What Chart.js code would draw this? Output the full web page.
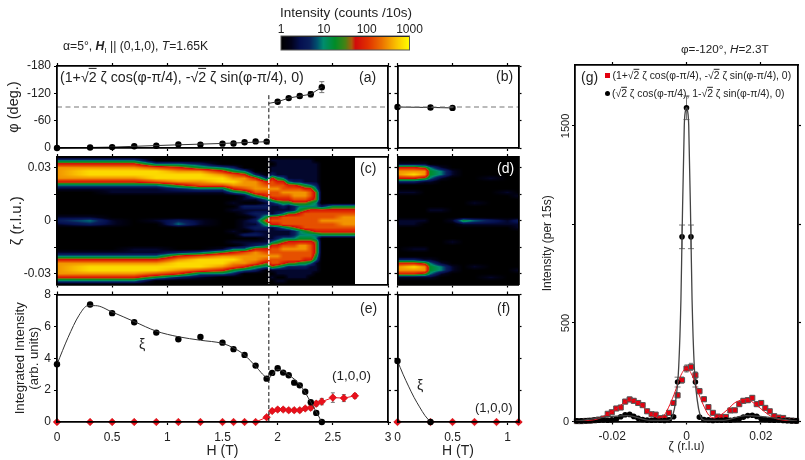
<!DOCTYPE html>
<html><head><meta charset="utf-8">
<style>
html,body{margin:0;padding:0;background:#fff;width:805px;height:460px;overflow:hidden}
canvas{position:absolute;left:0;top:0;pointer-events:none}
.t{position:absolute;white-space:nowrap;font-family:"Liberation Sans",Arial,sans-serif;color:#222;transform:translateY(-50%);line-height:1;z-index:5}
.t o{text-decoration:overline;font-style:normal}
.m{position:absolute;z-index:5}
</style>
<script src="https://cdn.jsdelivr.net/npm/chart.js@4"></script>
</head><body>
<script>
// ---------- data ----------
const phiH1 = [0,0.3,0.5,0.7,0.9,1.1,1.3,1.5,1.6,1.7,1.8,1.9];
const phiV1 = [0,-1,-2,-3.7,-5,-8,-7.5,-9.5,-10,-12.5,-14.5,-14];
const phiH2 = [2.0,2.1,2.2,2.3,2.4];
const phiV2 = [-101.6,-109.5,-114,-118,-133.6];
const phiE2 = [3,3,4,6,12];
const phiFitH1 = [0,0.5,1.1,1.5,1.92];
const phiFitV1 = [0,-2,-7,-10,-14];
const phiFitH2 = [1.92,2.0,2.1,2.2,2.3,2.4];
const phiFitV2 = [-98,-101.6,-109.5,-114,-118,-133.6];
const phiBH = [0,0.3,0.5];
const phiBV = [-90,-89,-88];
const refPhi = [-90,-90];
const refPhiX1 = [0,3];
const refPhiX2 = [0,1.1];
const dashH = [1.92,1.92];
const dashPhi = [-116,0];
const dashZeta = [0.036,-0.036];
const dashInt = [8,0];

const intH = [0,0.3,0.5,0.7,0.9,1.1,1.3,1.5,1.6,1.7,1.8,1.9,1.95,2.0,2.05,2.1,2.15,2.2,2.25,2.3,2.35,2.4];
const intXi = [3.62,7.37,6.83,6.26,5.61,5.19,5.34,4.98,4.57,4.21,3.54,2.72,3.08,3.37,3.1,2.93,2.47,2.3,1.9,1.24,0.57,0];
const fitXiH = [0,0.1,0.2,0.28,0.35,0.5,0.7,0.9,1.1,1.3,1.5,1.6,1.7,1.8,1.9,1.92,2.0,2.1,2.2,2.3,2.4];
const fitXiV = [3.62,5.3,6.7,7.3,7.3,6.9,6.3,5.7,5.35,5.13,4.93,4.65,4.2,3.5,2.8,2.78,3.3,2.95,2.35,1.25,0];
const redH = [0,0.3,0.5,0.7,0.9,1.1,1.3,1.5,1.6,1.7,1.8,1.9,1.95,2.0,2.05,2.1,2.15,2.2,2.25,2.3,2.35,2.4,2.5,2.6,2.7];
const redV = [0,0,0,0,0,0,0,0,0,0,0,0.3,0.69,0.78,0.78,0.74,0.74,0.74,0.85,0.9,1.15,1.28,1.53,1.5,1.64];
const redE = [0,0,0,0,0,0,0,0,0,0,0,0.1,0.1,0.12,0.12,0.12,0.12,0.12,0.12,0.15,0.15,0.2,0.3,0.22,0.15];
const fXiH = [0,0.3];
const fXiV = [3.83,0];
const fFitH = [0,0.05,0.1,0.15,0.2,0.25,0.3];
const fFitV = [3.83,3.0,2.25,1.55,0.95,0.4,0];
const fRedH = [0,0.3,0.5,0.7,0.9,1.1];
const fRedV = [0,0,0,0,0,0];

const zetaG = [-0.0295,-0.0283,-0.0271,-0.026,-0.0248,-0.0236,-0.0224,-0.0212,-0.0201,-0.0189,-0.0177,-0.0165,-0.0153,-0.0142,-0.013,-0.0118,-0.0106,-0.0094,-0.0083,-0.0071,-0.0059,-0.0047,-0.0035,-0.0024,-0.0012,0,0.0012,0.0024,0.0035,0.0047,0.0059,0.0071,0.0083,0.0094,0.0106,0.0118,0.013,0.0142,0.0153,0.0165,0.0177,0.0189,0.0201,0.0212,0.0224,0.0236,0.0248,0.026,0.0271,0.0283,0.0295];
const gRed = [2,2,3,4,6,10,15,39,47,66,71,101,112,105,94,83,52,37,35,17,20,44,94,133,210,269,277,235,154,113,73,44,25,23,23,56,57,88,105,108,120,88,94,69,52,27,20,18,7,5,3];
const gBlack = [3,3,4,5,7,6,8,6,8,12,24,34,36,26,16,10,7,6,8,6,5,8,24,200,937,1592,937,200,22,10,8,5,7,6,8,6,10,14,22,30,32,26,14,10,8,6,8,5,4,3,3];
const gFitBZ = [-0.03,-0.016,-0.01,-0.0055,-0.0045,-0.0037,-0.0029,-0.0021,-0.0015,-0.0012,-0.0006,-0.0003,0,0.0003,0.0006,0.0012,0.0015,0.0021,0.0029,0.0037,0.0045,0.0055,0.01,0.016,0.03];
const gFitBV = [2,30,6,5,8,30,107,277,617,937,1500,1575,1592,1575,1500,937,617,277,107,30,8,5,6,30,2];
const gFitRZ = [-0.03,-0.026,-0.024,-0.022,-0.02,-0.018,-0.0165,-0.015,-0.013,-0.011,-0.009,-0.0075,-0.006,-0.0045,-0.003,-0.0015,0,0.0015,0.003,0.0045,0.006,0.0075,0.009,0.011,0.013,0.015,0.0165,0.018,0.02,0.022,0.024,0.026,0.03];
const gFitRV = [0,6,12,30,50,78,100,108,95,60,30,18,32,85,155,235,270,235,155,85,32,18,30,60,95,110,112,95,65,35,15,7,0];

// intensity maps: one string per H column, rows from zeta=+0.036 down to -0.036; digit = 3*log10(counts)
const heatZeta = [0.036,0.034,0.032,0.03,0.028,0.026,0.024,0.022,0.02,0.018,0.016,0.014,0.012,0.01,0.008,0.006,0.004,0.002,0,-0.002,-0.004,-0.006,-0.008,-0.01,-0.012,-0.014,-0.016,-0.018,-0.02,-0.022,-0.024,-0.026,-0.028,-0.03,-0.032,-0.034,-0.036];
const heatCH = [0,0.3,0.5,0.7,0.9,1.1,1.3,1.5,1.6,1.7,1.8,1.9,1.95,2,2.05,2.1,2.15,2.2,2.25,2.3,2.35,2.4,2.5,2.6,2.7];
const heatC = [
"036888863 100000001 2 100000001 368888630",
"036899863 100000001 3 200000001 368998630",
"036899863 110000000 1 100000001 368998630",
"036899863 110000000 0 000000011 368998630",
"003799973 110000000 1 000000011 368997400",
"003689985 210000000 2 300000002 689986200",
"002489987 310000000 1 100000003 799973100",
"000368997 310000000 0 000000015 899863000",
"000247898 630010100 0 001001036 898742000",
"000036888 741102110 1 110201137 888630000",
"000002688 874102121 2 121201268 887420000",
"000000267 876312124 6 421111367 875300000",
"010112677 877521116 7 611113677 877510100",
"011111467 877631126 7 621124677 877411010",
"011111367 787642137 7 731135787 776311010",
"011111136 787641157 7 741136787 775211100",
"011111126 788752257 7 752236787 775211100",
"011111125 788753467 7 763346887 774211100",
"011111114 688753577 7 774346887 764211100",
"011111113 677643677 7 775346777 763111000",
"001111112 355533677 7 776335555 431110000",
"000000000 000002677 8 776400000 000000000",
"000000000 000004677 8 776400000 000000000",
"000000000 000004678 8 876400000 000000000",
"000000000 000004678 8 876400000 000000000"
];
const heatDH = [0,0.15,0.25,0.3,0.4,0.5,0.6,0.7,0.85,1,1.1];
const heatD = [
"001688620 010000000 1 100000000 026886100",
"001689620 010000000 1 100000010 026986100",
"001588510 000000000 1 000000010 015885100",
"000344310 000000100 0 000000000 013443100",
"000133100 000000100 0 000000000 001331000",
"000011000 000000000 1 000001000 000110000",
"000000000 000000000 4 100000000 000000000",
"000000000 000010000 3 100000000 000100000",
"000000100 000000000 2 100000000 000000100",
"000000000 010000000 1 100000000 000000000",
"000000000 001000000 2 110000000 000010000"
];
// tick lists
const ticksHLong = [0,0.5,1,1.5,2,2.5,3];
const ticksHShort = [0,0.5,1];
const ticksPhi = [-180,-120,-60,0];
const ticksZeta = [0.03,0.015,0,-0.015,-0.03];
const labelsZeta = [0.03,0,-0.03];
const ticksInt = [0,2,4,6,8];
const ticksGX = [-0.02,0,0.02];
const ticksGY = [0,500,1000,1500];
const labelsGY = [500,1500];
const ticksBar = [1,10,100,1000];

// ---------- colour map ----------
const stops = [[0,0,0,0],[.08,2,2,26],[.15,5,16,80],[.22,10,30,90],[.28,0,80,110],[.33,0,140,110],[.42,0,140,40],[.5,70,130,20],[.55,170,90,10],[.58,210,10,10],[.68,225,50,0],[.78,235,110,0],[.9,250,195,0],[1,255,255,0]];
function cmap(f){
  f=Math.max(0,Math.min(1,f));
  for(let i=1;i<stops.length;i++){ if(f<=stops[i][0]){
    const a=stops[i-1],b=stops[i],t=(f-a[0])/(b[0]-a[0]);
    return `rgb(${Math.round(a[1]+t*(b[1]-a[1]))},${Math.round(a[2]+t*(b[2]-a[2]))},${Math.round(a[3]+t*(b[3]-a[3]))})`;
  }}
  return 'rgb(255,255,0)';
}
function parseMap(rows){return rows.map(r=>r.replace(/ /g,'').split('').map(Number));}
function bracket(arr,v,desc){
  let n=arr.length;
  for(let i=0;i<n-1;i++){
    const a=arr[i],b=arr[i+1];
    if(desc? (v<=a&&v>=b):(v>=a&&v<=b)) return [i,(v-a)/(b-a)];
  }
  return null;
}
const heatPlugin={id:'heat',beforeDatasetsDraw(ch){
  const o=ch.options.plugins.heat; if(!o||!o.rows) return;
  const m=parseMap(o.rows),xs=ch.scales.x,ys=ch.scales.y,c=ch.ctx,a=ch.chartArea;
  c.save();
  for(let px=Math.floor(a.left);px<Math.ceil(a.right);px++){
    const bx=bracket(o.cols,xs.getValueForPixel(px+.5),false); if(!bx) continue;
    for(let py=Math.floor(a.top);py<Math.ceil(a.bottom);py++){
      const by=bracket(heatZeta,ys.getValueForPixel(py+.5),true);
      let lv=0;
      if(by){const [i,t]=bx,[j,u]=by;
        lv=(m[i][j]*(1-t)+m[i+1][j]*t)*(1-u)+(m[i][j+1]*(1-t)+m[i+1][j+1]*t)*u;}
      c.fillStyle=cmap(lv/9.6); c.fillRect(px,py,1,1);
    }
  }
  c.restore();
}};
const errPlugin={id:'errs',beforeDatasetsDraw(ch){
  const c=ch.ctx,ys=ch.scales.y,xs=ch.scales.x;
  ch.data.datasets.forEach(d=>{ if(!d.err) return;
    c.save();c.strokeStyle=d.errColor||'#777';c.lineWidth=1;
    const cap=d.errCap||2.5;
    d.data.forEach((p,i)=>{const e=d.err[i]; if(!e) return;
      const x=xs.getPixelForValue(p.x),y1=ys.getPixelForValue(p.y-e),y2=ys.getPixelForValue(p.y+e);
      c.beginPath();c.moveTo(x,y1);c.lineTo(x,y2);c.moveTo(x-cap,y1);c.lineTo(x+cap,y1);c.moveTo(x-cap,y2);c.lineTo(x+cap,y2);c.stroke();});
    c.restore();});
}};
Chart.register(heatPlugin,errPlugin);
Chart.defaults.font.family='"Liberation Sans",Arial,sans-serif';
Chart.defaults.color='#222';

const LEFT_W=50,BOTTOM_H=36;
const xy=(xs,ys)=>xs.map((x,i)=>({x,y:ys[i]}));
const line=(xs,ys,col,w,extra)=>Object.assign({data:xy(xs,ys),showLine:true,borderColor:col,borderWidth:w,pointRadius:0,fill:false,clip:false},extra||{});
const pts=(xs,ys,extra)=>Object.assign({data:xy(xs,ys),showLine:false,pointRadius:3.2,pointBackgroundColor:'#000',pointBorderColor:'#000',pointBorderWidth:0,clip:false},extra||{});
const redDia={pointStyle:'rectRot',pointRadius:3.8,pointBackgroundColor:'#e8101c',pointBorderColor:'#c00',pointBorderWidth:.5};

function axis(pos,min,max,tickVals,opts){
  opts=opts||{};
  const horiz=pos==='top'||pos==='bottom';
  const shown=opts.labels||tickVals;
  const size=opts.size!==undefined?opts.size:(pos==='left'?LEFT_W:(pos==='bottom'?BOTTOM_H:0));
  return {
    type:opts.type||'linear',position:pos,axis:horiz?'x':'y',min,max,reverse:!!opts.reverse,
    afterBuildTicks:s=>{s.ticks=tickVals.map(v=>({value:v}));},
    afterFit:s=>{if(horiz)s.height=size;else s.width=size;},
    border:{display:true,color:'#000',width:opts.bw||1.8,z:2},
    grid:{drawOnChartArea:false,drawTicks:true,tickLength:3,tickColor:'#000',tickWidth:1.2,offset:false},
    ticks:{display:!!opts.showLabels,autoSkip:false,maxRotation:opts.rot||0,minRotation:opts.rot||0,
      padding:opts.pad!==undefined?opts.pad:(horiz?5:3),crossAlign:opts.cross||'near',
      font:{size:opts.fs||12},color:'#222',includeBounds:false,
      callback:v=>shown.includes(v)?String(v):''},
    title:opts.title?{display:true,text:opts.title,color:'#222',font:{size:opts.tfs||13.5,lineHeight:opts.tlh||1.2},padding:opts.tpad}:{display:false}
  };
}
function panel(box,scales,datasets,heat){
  const cv=document.createElement('canvas');cv.width=805;cv.height=460;document.body.appendChild(cv);
  return new Chart(cv,{type:'scatter',data:{datasets},options:{
    responsive:false,animation:false,devicePixelRatio:1,events:[],
    layout:{padding:{left:box[0]-LEFT_W,top:box[2],right:805-box[1],bottom:460-box[3]-BOTTOM_H}},
    plugins:{legend:{display:false},tooltip:{enabled:false},heat:heat||{}},
    scales
  }});
}
const LX0=57,LX1=388,RX0=397.5,RX1=518.5;
const Y_A=[66,148],Y_C=[157,284.5],Y_E=[294.5,422];

// (a)
panel([LX0,LX1,Y_A[0],Y_A[1]],{
  x:axis('bottom',0,3,ticksHLong),
  x2:axis('top',0,3,ticksHLong),
  y:axis('left',-180,0,ticksPhi,{reverse:true,showLabels:true,title:'φ (deg.)',tfs:14.5,tpad:{top:-1.5,bottom:0}}),
  y2:axis('right',-180,0,ticksPhi,{reverse:true})
},[
  line(refPhiX1,refPhi,'#777',1.2,{borderDash:[5,3.5]}),
  line(dashH,dashPhi,'#111',1,{borderDash:[4,2.5]}),
  line(phiFitH1,phiFitV1,'#333',1),
  line(phiFitH2,phiFitV2,'#333',1),
  pts(phiH1,phiV1),
  pts(phiH2,phiV2,{err:phiE2})
]);
// (b)
panel([RX0,RX1,Y_A[0],Y_A[1]],{
  x:axis('bottom',0,1.1,ticksHShort),
  x2:axis('top',0,1.1,ticksHShort),
  y:axis('left',-180,0,ticksPhi,{reverse:true}),
  y2:axis('right',-180,0,ticksPhi,{reverse:true})
},[
  line(refPhiX2,refPhi,'#777',1.2,{borderDash:[5,3.5]}),
  line(phiBH,phiBV,'#222',1),
  pts(phiBH,phiBV)
]);
// (c)
panel([LX0,LX1,Y_C[0],Y_C[1]],{
  x:axis('bottom',0,3,ticksHLong),
  x2:axis('top',0,3,ticksHLong),
  y:axis('left',-0.036,0.036,ticksZeta,{showLabels:true,labels:labelsZeta,title:'ζ (r.l.u.)',tfs:15,tpad:{top:0.5,bottom:0}}),
  y2:axis('right',-0.036,0.036,ticksZeta)
},[
  line(dashH,dashZeta,'#fff',1.2,{borderDash:[4,1.5]})
],{rows:heatC,cols:heatCH});
// (d)
panel([RX0,RX1,Y_C[0],Y_C[1]],{
  x:axis('bottom',0,1.1,ticksHShort),
  x2:axis('top',0,1.1,ticksHShort),
  y:axis('left',-0.036,0.036,ticksZeta),
  y2:axis('right',-0.036,0.036,ticksZeta)
},[],{rows:heatD,cols:heatDH});
// (e)
panel([LX0,LX1,Y_E[0],Y_E[1]],{
  x:axis('bottom',0,3,ticksHLong,{showLabels:true,title:'H (T)',tfs:14,tpad:{top:0,bottom:-1.5}}),
  x2:axis('top',0,3,ticksHLong),
  y:axis('left',0,8,ticksInt,{showLabels:true,title:['Integrated Intensity','(arb. units)'],tfs:13.2,tlh:1.12,tpad:{top:5.6,bottom:0}}),
  y2:axis('right',0,8,ticksInt)
},[
  line(dashH,dashInt,'#111',1,{borderDash:[4,2.5]}),
  line(fitXiH,fitXiV,'#333',1,{cubicInterpolationMode:'monotone'}),
  line(redH.slice(10),redV.slice(10),'#e8101c',1),
  pts(intH,intXi),
  pts(redH,redV,Object.assign({err:redE,errCap:2},redDia))
]);
// (f)
panel([RX0,RX1,Y_E[0],Y_E[1]],{
  x:axis('bottom',0,1.1,ticksHShort,{showLabels:true,title:'H (T)',tfs:14,tpad:{top:0,bottom:-1.5}}),
  x2:axis('top',0,1.1,ticksHShort),
  y:axis('left',0,8,ticksInt),
  y2:axis('right',0,8,ticksInt)
},[
  line(fFitH,fFitV,'#333',1,{cubicInterpolationMode:'monotone'}),
  pts(fXiH,fXiV),
  pts(fRedH,fRedV,redDia)
]);
// (g)
const errG=gRed.map(v=>Math.max(6,Math.sqrt(v)*1.1));
const errK=gBlack.map(v=>v>800?60:(v>100?25:4));
panel([575,798,65,421.5],{
  x:axis('bottom',-0.03,0.03,ticksGX,{showLabels:true,title:'ζ (r.l.u)',tfs:12,tpad:{top:0,bottom:3.5}}),
  x2:axis('top',-0.03,0.03,ticksGX),
  y:axis('left',0,1809,ticksGY,{showLabels:true,labels:labelsGY,rot:90,cross:'center',pad:-6,fs:11,title:'Intensity (per 15s)',tfs:12,tpad:{top:15.8,bottom:0}}),
  y2:axis('right',0,1809,ticksGY)
},[
  line(gFitBZ,gFitBV,'#444',1.3,{cubicInterpolationMode:'monotone'}),
  line(gFitRZ,gFitRV,'#e8101c',1,{cubicInterpolationMode:'monotone'}),
  pts(zetaG,gBlack,{err:errK,errCap:3,pointRadius:2.8}),
  pts(zetaG,gRed,{err:errG,errCap:2,pointStyle:'rect',pointRadius:3.6,pointBackgroundColor:'#e2000f',pointBorderColor:'#555',pointBorderWidth:1})
]);
// colour bar
(function(){
  const cv=document.createElement('canvas');cv.width=805;cv.height=460;document.body.appendChild(cv);
  new Chart(cv,{type:'scatter',data:{datasets:[]},plugins:[{id:'bar',beforeDraw(ch){
    const s=ch.scales.x,a=ch.chartArea,c=ch.ctx;
    for(let px=Math.floor(a.left);px<Math.ceil(a.right);px++){
      const v=s.getValueForPixel(px+.5);
      c.fillStyle=cmap(Math.log10(v)/3);c.fillRect(px,a.top,1,a.bottom-a.top);
    }
  },afterDraw(ch){
    const a=ch.chartArea,c=ch.ctx;c.save();c.strokeStyle='#555';c.lineWidth=1;
    c.strokeRect(a.left,a.top,a.right-a.left,a.bottom-a.top);c.restore();
  }}],options:{responsive:false,animation:false,devicePixelRatio:1,events:[],
    layout:{padding:{left:281,right:805-409.5,top:16,bottom:460-50}},
    plugins:{legend:{display:false},tooltip:{enabled:false}},
    scales:{
      x:Object.assign(axis('top',1,1000,ticksBar,{type:'logarithmic',showLabels:true,bw:1,pad:-1,size:20}),{grid:{drawOnChartArea:false,drawTicks:false,offset:false}}),
      y:{display:false,min:0,max:1}
    }}});
})();

// ---------- text overlays ----------
function T(x,y,html,size,style){
  const d=document.createElement('div');d.className='t';d.innerHTML=html;
  d.style.left=x+'px';d.style.top=y+'px';d.style.fontSize=size+'px';
  if(style) Object.assign(d.style,style);
  document.body.appendChild(d);return d;
}
const S2='√<o>2</o>';
T(280,13,'Intensity (counts /10s)',13.5);
T(63,46,'α=5°, <b><i>H</i></b><sub style="font-size:8px;line-height:0">I</sub> || (0,1,0), <i>T</i>=1.65K',12.2);
T(681,49,'φ=-120°, <i>H</i>=2.3T',11.7);
T(60,77,`(1+${S2} ζ cos(φ-π/4), -${S2} ζ sin(φ-π/4), 0)`,14.2);
T(359,77,'(a)',14);T(496,76,'(b)',14);T(360,168,'(c)',14);
T(497,168,'(d)',14,{color:'#fff'});T(360,308,'(e)',14);T(497,308,'(f)',14);
T(139,344,'ξ',14);T(332,376,'(1,0,0)',13.5);T(417,385,'ξ',14);T(475,407,'(1,0,0)',13);
T(581,77,'(g)',14);
T(612.5,76,`(1+${S2} ζ cos(φ-π/4), -${S2} ζ sin(φ-π/4), 0)`,10.4);
T(612,94,`(${S2} ζ cos(φ-π/4), 1-${S2} ζ sin(φ-π/4), 0)`,10.4);
T(563,421,'0',11);
function M(x,y,sz,col,r){const d=document.createElement('div');d.className='m';
  d.style.cssText+=`left:${x}px;top:${y}px;width:${sz}px;height:${sz}px;background:${col};border-radius:${r}`;document.body.appendChild(d);}
M(605.2,73,4.5,'#e2000f','0');
M(604.7,90.5,5,'#000','50%');
</script>
</body></html>
